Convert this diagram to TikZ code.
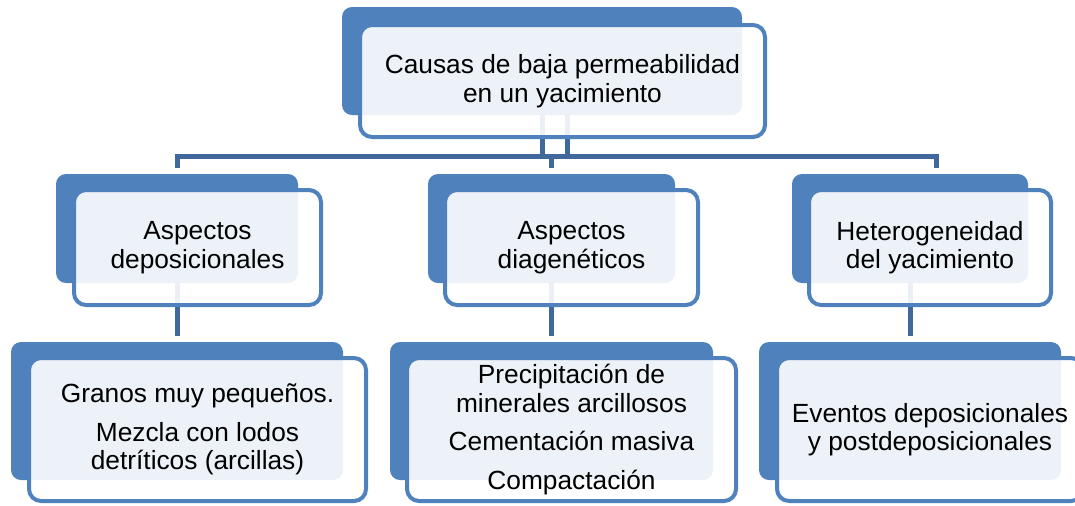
\documentclass[tikz,border=0pt]{standalone}
\usepackage{fontspec}
\setmainfont{Liberation Sans}
\usepackage{xcolor}
\usetikzlibrary{positioning,calc}

\definecolor{accent}{HTML}{4F81BD}
\definecolor{linkblue}{HTML}{41689C}

\begin{document}
\begin{tikzpicture}[
  x=0.5pt, y=-0.5pt,
  back/.style={fill=accent, rounded corners=5pt, inner sep=0pt, minimum height=54.5pt},
  front/.style={draw=accent, line width=2pt, fill=white, fill opacity=0.9, text opacity=1,
    rounded corners=6pt, inner sep=0pt, align=center, minimum height=57.5pt,
    font=\fontsize{13.15}{14.2}\selectfont},
  link/.style={draw=linkblue, line width=2.5pt}]
\useasboundingbox (0,0) rectangle (1075,505);
\clip (0,0) rectangle (1075,505);

% back shapes
\node[back, minimum width=200pt, minimum height=54pt] (rootbg) at (542,61) {};
\node[back, minimum width=121pt] (depbg) at (177,228.5) {};
\node[back, minimum width=123.5pt] (diabg) at (551.5,228.5) {};
\node[back, minimum width=118pt] (hetbg) at (910,228.5) {};
\node[back, minimum width=166pt, minimum height=69pt] (grabg) at (177,411) {};
\node[back, minimum width=161.5pt, minimum height=69pt] (prebg) at (551.5,411) {};
\node[back, minimum width=151pt, minimum height=69pt] (evebg) at (910,411) {};

% connectors
\coordinate (busR) at (936,156.5);
\coordinate (rootR) at ([xshift=12.75pt]rootbg.south);
\draw[link] (rootbg.south) -- (rootbg.south |- busR);
\draw[link] (rootR) -- (rootR |- busR);
\draw[link, shorten <=3pt, shorten >=3pt] (depbg.north) |- (busR) -- (busR |- hetbg.north);
\draw[link, shorten >=3pt] (diabg.north |- busR) -- (diabg.north);
\foreach \a/\b in {depbg/grabg, diabg/prebg, hetbg/evebg} \draw[link, shorten >=3pt] (\a) -- (\b);

% front boxes
\node[front, minimum width=202.5pt, minimum height=56pt] (root) at ([shift={(20.5,20)}]rootbg.center) {Causas de baja permeabilidad\\en un yacimiento};
\node[front, minimum width=123.5pt] (dep) at ([shift={(20.5,19)}]depbg.center) {Aspectos\\deposicionales};
\node[front, minimum width=126.5pt] (dia) at ([shift={(20,19)}]diabg.center) {Aspectos\\diagenéticos};
\node[front, minimum width=121pt] (het) at ([shift={(20,19)}]hetbg.center) {Heterogeneidad\\del yacimiento};
\node[front, minimum width=168.5pt, minimum height=71.5pt] (gra) at ([shift={(20.5,18.5)}]grabg.center) {Granos muy pequeños.\\[5pt]Mezcla con lodos\\detríticos (arcillas)};
\node[front, minimum width=164.5pt, minimum height=71.5pt] (pre) at ([shift={(20,18.5)}]prebg.center) {Precipitación de\\minerales arcillosos\\[5pt]Cementación masiva\\[5pt]Compactación};
\node[front, minimum width=153pt, minimum height=71.5pt] (eve) at ([shift={(20,18.5)}]evebg.center) {Eventos deposicionales\\y postdeposicionales};
\end{tikzpicture}
\end{document}
